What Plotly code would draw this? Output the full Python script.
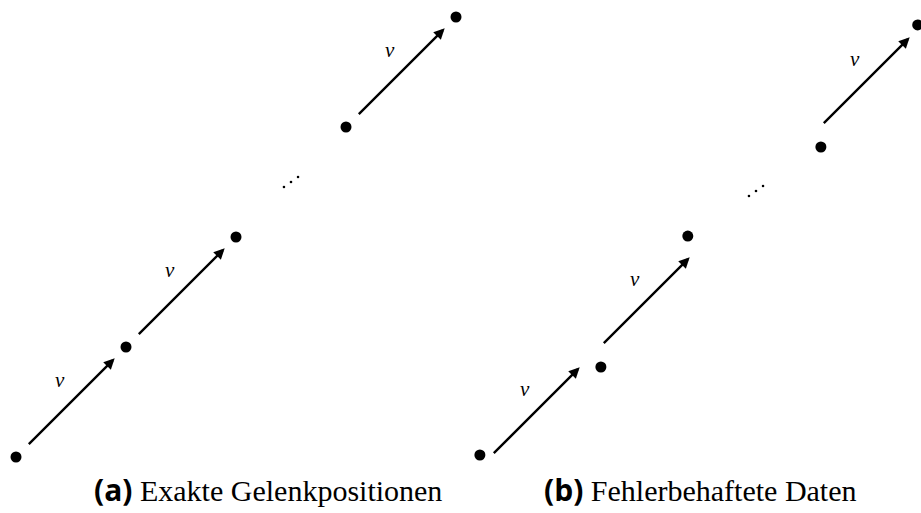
import plotly.graph_objects as go

# ---- data (diagram units: one step of the velocity vector v = (1, 1)) ----
steps = [0, 1, 2, 3, 4]                    # joint index k, ideal position (k, k)
arrow_steps = [0, 1, 3]                    # arrows v from joint k to joint k+1
gap_step = 2                               # "..." between joint 2 and joint 3
noise_dx_b = [-0.01, 0.09, -0.12, 0.09, -0.03]   # measurement error, panel (b)
noise_dy_b = [0.10, -0.10, 0.09, -0.10, 0.01]
captions = ["Exakte Gelenkpositionen", "Fehlerbehaftete Daten"]
caption_tags = ["(a)", "(b)"]
vec_label = "v"

# ---- layout constants ----
PX = 110.0                                  # pixels per diagram unit
W, H = 921, 513
OX_A, OY_A = 0.0, 0.0                       # panel origins (diagram units)
OX_B, OY_B = (481 - 16) / PX, (457 - 466) / PX
x_rng = [-16 / PX, (W - 16) / PX]
y_rng = [(457 - H) / PX, 457 / PX]

fig = go.Figure()

panels = [
    (OX_A, OY_A, [0.0] * 5, [0.0] * 5),
    (OX_B, OY_B, noise_dx_b, noise_dy_b),
]

annotations = []
for ox, oy, ndx, ndy in panels:
    xs = [ox + k + dx for k, dx in zip(steps, ndx)]
    ys = [oy + k + dy for k, dy in zip(steps, ndy)]
    fig.add_trace(go.Scatter(x=xs, y=ys, mode="markers",
                             marker=dict(size=11, color="black"),
                             hoverinfo="skip", showlegend=False))
    for k in arrow_steps:
        annotations.append(dict(
            x=ox + k + 1, y=oy + k + 1, ax=ox + k, ay=oy + k,
            xref="x", yref="y", axref="x", ayref="y", text="",
            showarrow=True, arrowhead=2, arrowsize=0.9, arrowwidth=2.4,
            arrowcolor="black", standoff=16, startstandoff=16))
        annotations.append(dict(
            x=ox + k + 0.5 - 0.10, y=oy + k + 0.5 + 0.20, xref="x", yref="y",
            text="<i>" + vec_label + "</i>", showarrow=False,
            font=dict(family="Liberation Serif", size=21, color="black")))
    # ellipsis dots
    cx, cy = ox + gap_step + 0.5, oy + gap_step + 0.5
    fig.add_trace(go.Scatter(
        x=[cx - 0.064, cx, cx + 0.064], y=[cy - 0.045, cy, cy + 0.045],
        mode="markers", marker=dict(size=2.6, color="black"),
        hoverinfo="skip", showlegend=False))

cap_x = [268 / W, 700 / W]
for cx, tag, cap in zip(cap_x, caption_tags, captions):
    annotations.append(dict(
        x=cx, y=1 - 489 / H, xref="paper", yref="paper", showarrow=False,
        xanchor="center", yanchor="middle",
        text='<span style="font-family:Open Sans"><b>' + tag + '</b></span> ' + cap,
        font=dict(family="Liberation Serif", size=30, color="black")))

fig.update_layout(
    width=W, height=H, margin=dict(l=0, r=0, t=0, b=0),
    paper_bgcolor="white", plot_bgcolor="white",
    xaxis=dict(range=x_rng, visible=False, fixedrange=True),
    yaxis=dict(range=y_rng, visible=False, fixedrange=True),
    annotations=annotations, showlegend=False)

fig.write_html("out.html")
